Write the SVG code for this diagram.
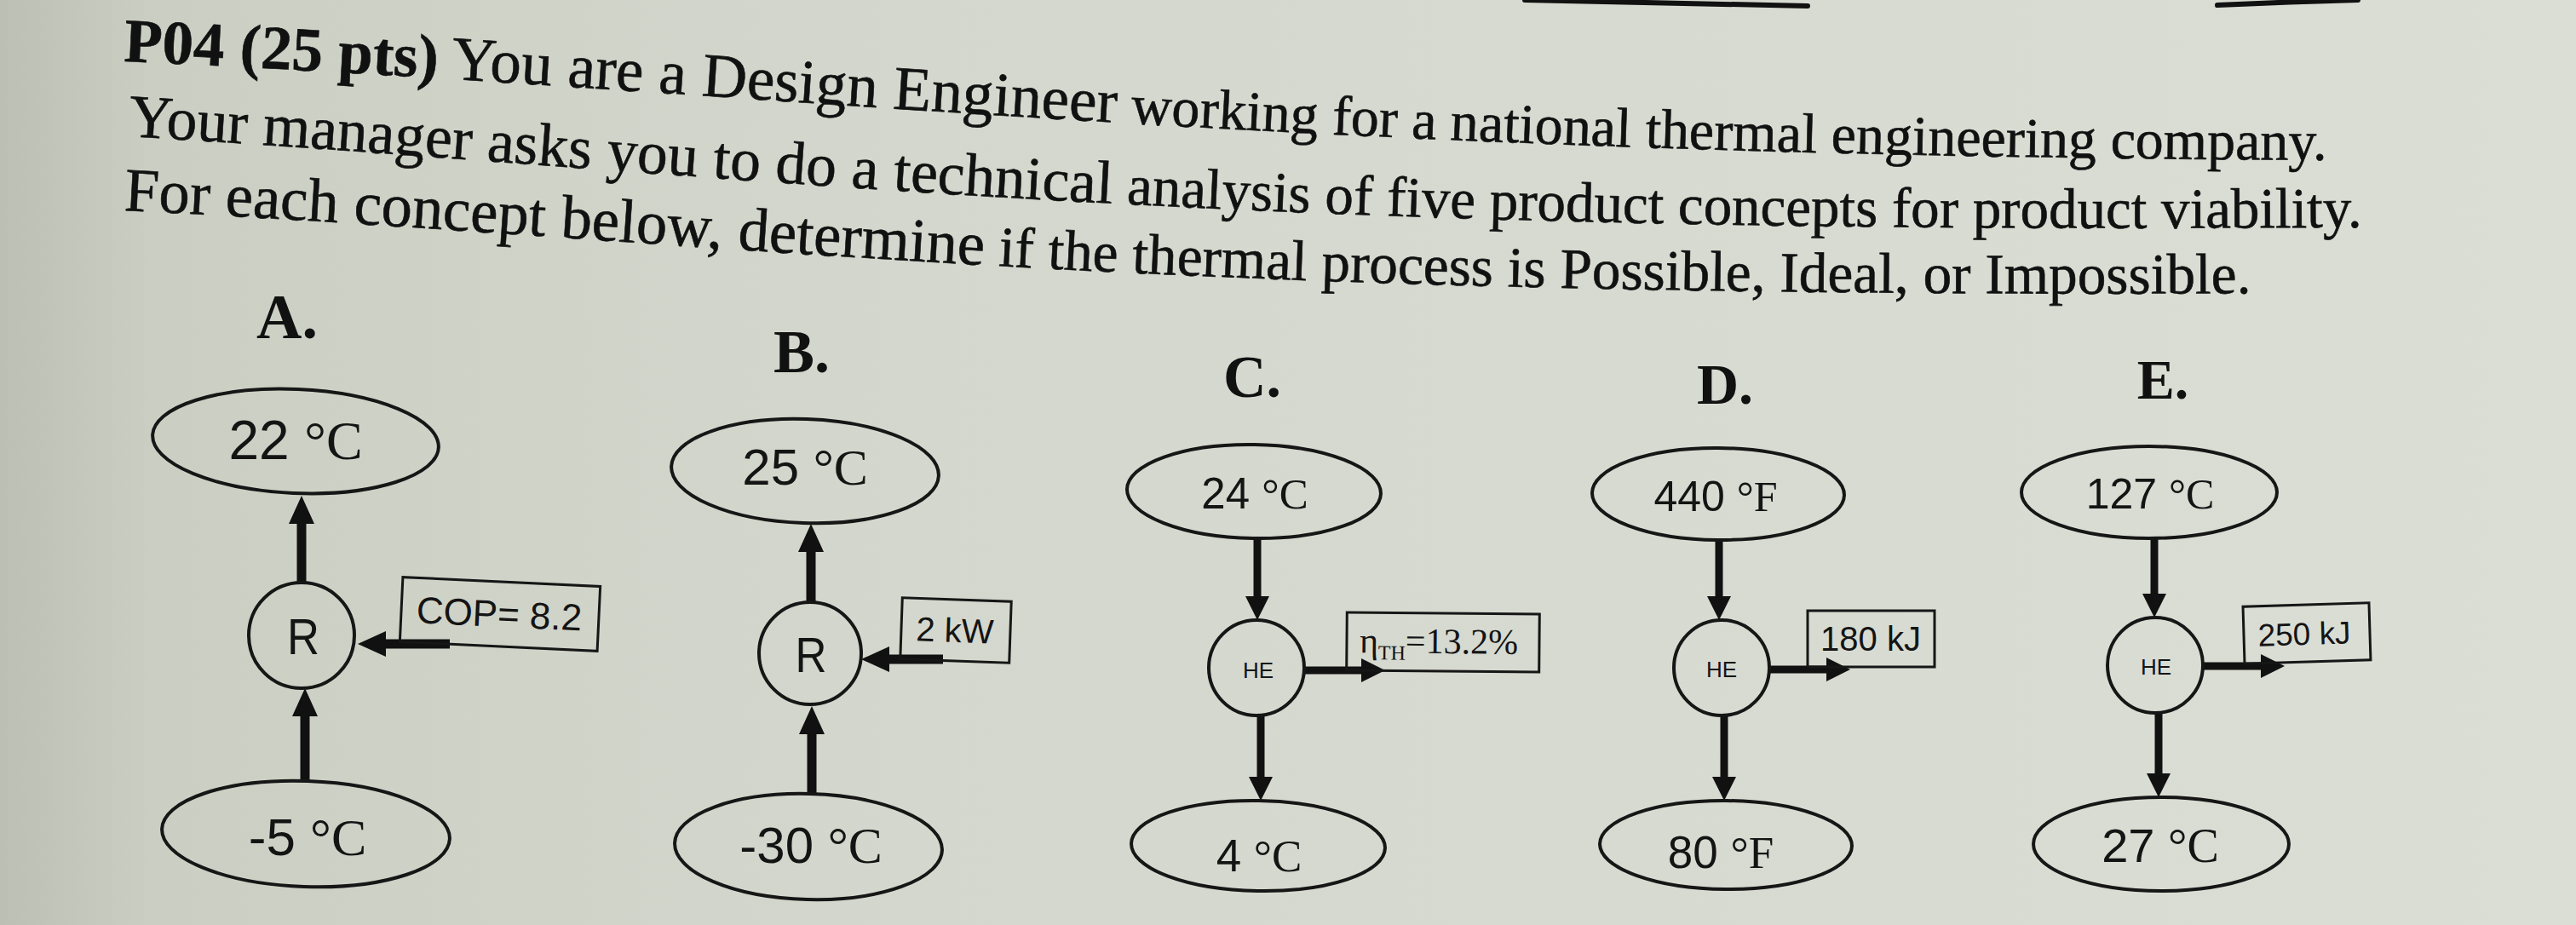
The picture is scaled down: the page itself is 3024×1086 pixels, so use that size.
<svg xmlns="http://www.w3.org/2000/svg" width="3024" height="1086" viewBox="0 0 3024 1086">
<defs>
<linearGradient id="bg" x1="0" y1="0" x2="1" y2="0">
<stop offset="0" stop-color="#bcc0b4"/>
<stop offset="0.06" stop-color="#cbcfc3"/>
<stop offset="0.35" stop-color="#d4d7cd"/>
<stop offset="1" stop-color="#dbded5"/>
</linearGradient>
<marker id="ahL" markerUnits="userSpaceOnUse" markerWidth="34" markerHeight="30" viewBox="0 0 34 30" refX="1" refY="15" orient="auto">
<path d="M0,0 L33,15 L0,30 z" fill="#111"/>
</marker>
<marker id="ahS" markerUnits="userSpaceOnUse" markerWidth="29" markerHeight="28" viewBox="0 0 29 28" refX="1" refY="14" orient="auto">
<path d="M0,0 L28,14 L0,28 z" fill="#111"/>
</marker>
<path id="tl1" d="M145,72 C900,105 1500,185 2780,188"/>
<path id="tl2" d="M150,160 C900,205 1400,280 2840,266"/>
<path id="tl3" d="M145,247 C900,285 1300,352 2700,344"/>
</defs>
<style>
.sans{font-family:"Liberation Sans",Arial,sans-serif}
.serif{font-family:"Liberation Serif","Times New Roman",serif}
.title{font-family:"Liberation Serif","Times New Roman",serif;fill:#111;stroke:#111;stroke-width:0.6}
.lbl{font-family:"Liberation Serif","Times New Roman",serif;font-weight:bold;text-anchor:middle;fill:#111}
.node{fill:none;stroke:#161616;stroke-width:4}
.box{fill:none;stroke:#161616;stroke-width:3}
.t{fill:#141414;text-anchor:middle}
.cl{fill:none;stroke:#111;stroke-width:11;marker-end:url(#ahL)}
.cs{fill:none;stroke:#111;stroke-width:9;marker-end:url(#ahS)}
.edge{fill:none;stroke:#111;stroke-width:6;stroke-linecap:round}
</style>
<rect x="0" y="0" width="3024" height="1086" fill="url(#bg)"/>
<path class="edge" d="M1790,0 Q1950,4 2122,7"/>
<path class="edge" d="M2603,6 Q2690,2 2768,0"/>

<g id="title">
<text class="title"><textPath href="#tl1"><tspan font-size="73" font-weight="bold">P04 (25 pts)</tspan><tspan font-size="73"> You are a Design Engineer</tspan><tspan font-size="66"> working for a national thermal engineering company.</tspan></textPath></text>
<text class="title"><textPath href="#tl2"><tspan font-size="71.5">Your manager asks you to do a technical</tspan><tspan font-size="67"> analysis of five product concepts for product viability.</tspan></textPath></text>
<text class="title"><textPath href="#tl3"><tspan font-size="72.5">For each concept below, determine</tspan><tspan font-size="67.3"> if the thermal process is Possible, Ideal, or Impossible.</tspan></textPath></text>
</g>

<g id="labels">
<text class="lbl" x="337" y="397" font-size="74">A.</text>
<text class="lbl" x="941" y="437" font-size="72">B.</text>
<text class="lbl" x="1470" y="466" font-size="70">C.</text>
<text class="lbl" x="2025" y="474" font-size="68">D.</text>
<text class="lbl" x="2539" y="468" font-size="66">E.</text>
</g>

<g id="connectors">
<path class="cl" d="M354,684 L354,614"/>
<path class="cl" d="M358,917 L358,840"/>
<path class="cl" d="M528,756 L452,756"/>
<path class="cl" d="M952,707 L952,647"/>
<path class="cl" d="M953,931 L953,861"/>
<path class="cl" d="M1107,774 L1043,774"/>
<path class="cs" d="M1476,633 L1476,701"/>
<path class="cs" d="M1480,841 L1480,913"/>
<path class="cs" d="M1531,787 L1599,787"/>
<path class="cs" d="M2018,635 L2018,701"/>
<path class="cs" d="M2024,841 L2024,913"/>
<path class="cs" d="M2077,786 L2145,786"/>
<path class="cs" d="M2529,633 L2529,698"/>
<path class="cs" d="M2534,838 L2534,909"/>
<path class="cs" d="M2586,782 L2655,782"/>
</g>

<g id="A-hot">
<ellipse class="node" cx="347" cy="518" rx="168" ry="61" transform="rotate(2.5 347 518)"/>
<text class="t" x="347" y="539" font-size="64"><tspan class="sans">22 </tspan><tspan class="serif">°C</tspan></text>
</g>
<g id="A-R">
<circle class="node" cx="354" cy="746" r="62"/>
<text class="t sans" x="356" y="768" font-size="60" textLength="38" lengthAdjust="spacingAndGlyphs">R</text>
</g>
<g id="A-cop" transform="rotate(2.7 587 721)">
<rect class="box" x="471" y="683" width="232" height="76"/>
<text class="t sans" x="586" y="736" font-size="44">COP= 8.2</text>
</g>
<g id="A-cold">
<ellipse class="node" cx="359" cy="979" rx="169" ry="62" transform="rotate(2 359 979)"/>
<text class="t" x="361" y="1004" font-size="62"><tspan class="sans">-5 </tspan><tspan class="serif">°C</tspan></text>
</g>

<g id="B-hot">
<ellipse class="node" cx="945" cy="553" rx="157" ry="61" transform="rotate(2 945 553)"/>
<text class="t" x="945" y="569" font-size="60"><tspan class="sans">25 </tspan><tspan class="serif">°C</tspan></text>
</g>
<g id="B-R">
<circle class="node" cx="951" cy="767" r="60"/>
<text class="t sans" x="952" y="789" font-size="58" textLength="37" lengthAdjust="spacingAndGlyphs">R</text>
</g>
<g id="B-work" transform="rotate(2 1122 740)">
<rect class="box" x="1058" y="704" width="128" height="72"/>
<text class="t sans" x="1121" y="754" font-size="40">2 kW</text>
</g>
<g id="B-cold">
<ellipse class="node" cx="949" cy="994" rx="157" ry="62" transform="rotate(1.5 949 994)"/>
<text class="t" x="952" y="1013" font-size="60"><tspan class="sans">-30 </tspan><tspan class="serif">°C</tspan></text>
</g>

<g id="C-hot">
<ellipse class="node" cx="1472" cy="577" rx="149" ry="55" transform="rotate(1 1472 577)"/>
<text class="t" x="1473" y="597" font-size="51"><tspan class="sans">24 </tspan><tspan class="serif">°C</tspan></text>
</g>
<g id="C-HE">
<circle class="node" cx="1475" cy="784" r="56"/>
<text class="t sans" x="1477" y="796" font-size="26">HE</text>
</g>
<g id="C-eff" transform="rotate(0.5 1694 754)">
<rect class="box" x="1581" y="720" width="226" height="68"/>
<text class="serif" x="1596" y="767" font-size="42" fill="#141414">η<tspan font-size="24" dy="8">TH</tspan><tspan font-size="42" dy="-8">=13.2%</tspan></text>
</g>
<g id="C-cold">
<ellipse class="node" cx="1477" cy="993" rx="149" ry="53" transform="rotate(1 1477 993)"/>
<text class="t" x="1478" y="1023" font-size="53"><tspan class="sans">4 </tspan><tspan class="serif">°C</tspan></text>
</g>

<g id="D-hot">
<ellipse class="node" cx="2017" cy="580" rx="148" ry="54" transform="rotate(0.5 2017 580)"/>
<text class="t" x="2014" y="600" font-size="50"><tspan class="sans">440 </tspan><tspan class="serif">°F</tspan></text>
</g>
<g id="D-HE">
<circle class="node" cx="2021" cy="784" r="56"/>
<text class="t sans" x="2021" y="795" font-size="26">HE</text>
</g>
<g id="D-work">
<rect class="box" x="2122" y="717" width="149" height="66"/>
<text class="t sans" x="2196" y="764" font-size="40">180 kJ</text>
</g>
<g id="D-cold">
<ellipse class="node" cx="2026" cy="992" rx="148" ry="52" transform="rotate(0.5 2026 992)"/>
<text class="t" x="2020" y="1019" font-size="53"><tspan class="sans">80 </tspan><tspan class="serif">°F</tspan></text>
</g>

<g id="E-hot">
<ellipse class="node" cx="2523" cy="578" rx="150" ry="54"/>
<text class="t" x="2524" y="597" font-size="50"><tspan class="sans">127 </tspan><tspan class="serif">°C</tspan></text>
</g>
<g id="E-HE">
<circle class="node" cx="2530" cy="781" r="56"/>
<text class="t sans" x="2531" y="792" font-size="26">HE</text>
</g>
<g id="E-work" transform="rotate(-1.7 2708 744)">
<rect class="box" x="2634" y="710" width="148" height="67"/>
<text class="t sans" x="2705" y="757" font-size="37">250 kJ</text>
</g>
<g id="E-cold">
<ellipse class="node" cx="2537" cy="991" rx="150" ry="55"/>
<text class="t" x="2536" y="1012" font-size="56"><tspan class="sans">27 </tspan><tspan class="serif">°C</tspan></text>
</g>
</svg>
